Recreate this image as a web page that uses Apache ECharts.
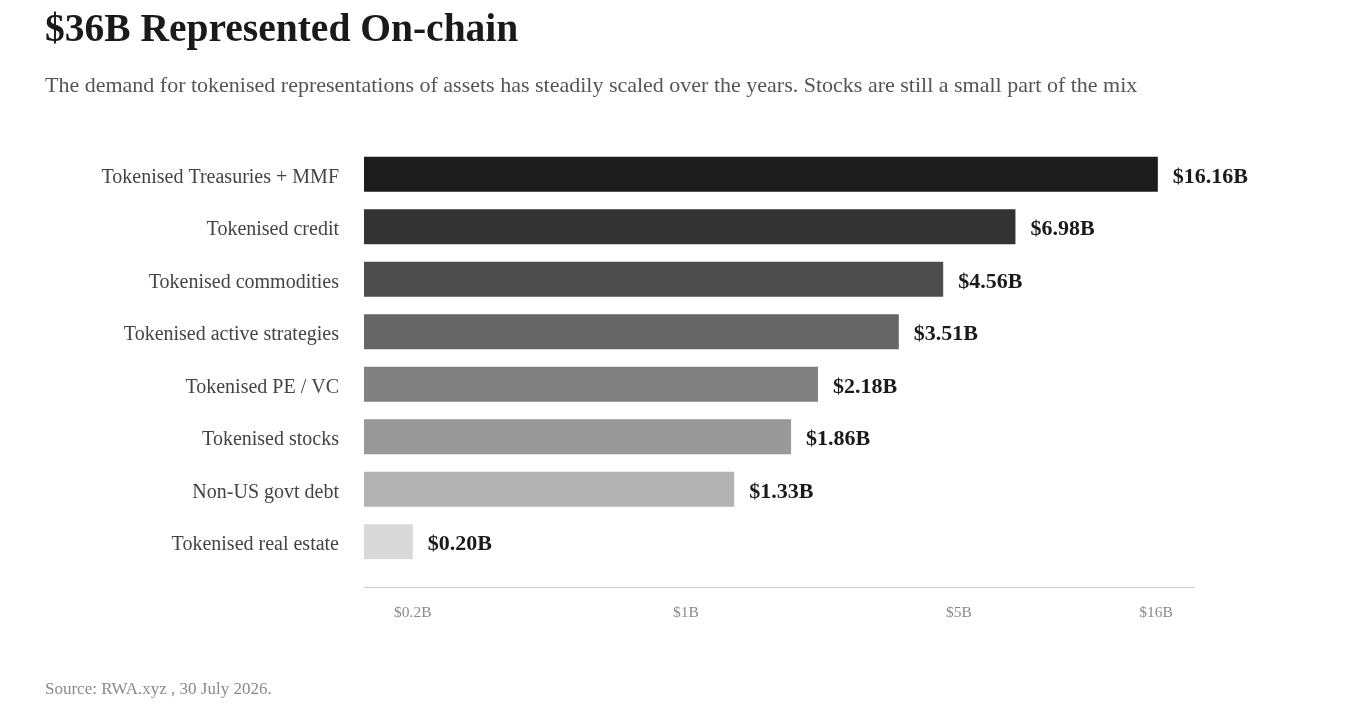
<!DOCTYPE html>
<html>
<head>
<meta charset="utf-8">
<script src="https://cdn.jsdelivr.net/npm/echarts@6/dist/echarts.min.js"></script>
<style>
  html, body { margin: 0; padding: 0; background: #fff; }
  #chart { width: 1357px; height: 710px; }
</style>
</head>
<body>
<div id="chart"></div>
<script>
// data
const categories = [
  'Tokenised Treasuries + MMF',
  'Tokenised credit',
  'Tokenised commodities',
  'Tokenised active strategies',
  'Tokenised PE / VC',
  'Tokenised stocks',
  'Non-US govt debt',
  'Tokenised real estate'
];
const values = [16.16, 6.98, 4.56, 3.51, 2.18, 1.86, 1.33, 0.20];
const barColors = ['#1c1c1c', '#333333', '#4d4d4d', '#666666', '#808080', '#999999', '#b3b3b3', '#d9d9d9'];
const tickValues = [0.2, 1, 5, 16];

const FONT = '"Liberation Serif", "DejaVu Serif", serif';

const options = {
  animation: false,
  title: [
    {
      text: '$36B Represented On-chain',
      left: 40,
      top: 6,
      textStyle: { fontFamily: FONT, fontSize: 39.5, fontWeight: 'bold', color: '#1a1a1a' }
    },
    {
      text: 'The demand for tokenised representations of assets has steadily scaled over the years. Stocks are still a small part of the mix',
      left: 40,
      top: 70,
      textStyle: { fontFamily: FONT, fontSize: 22, fontWeight: 'normal', color: '#555555' }
    },
    {
      text: 'Source: RWA.xyz , 30 July 2026.',
      left: 40,
      top: 676,
      textStyle: { fontFamily: FONT, fontSize: 17, fontWeight: 'normal', color: '#8a8a8a' }
    }
  ],
  grid: {
    left: 364,
    right: 163,
    top: 148,
    height: 420,
    outerBoundsMode: 'none'
  },
  xAxis: {
    type: 'log',
    logBase: 10,
    min: 0.15,
    max: 20,
    startValue: 0.15,
    offset: 19,
    axisLine: { show: true, lineStyle: { color: '#d0d0d0', width: 1 } },
    axisTick: { show: false },
    splitLine: { show: false },
    axisLabel: {
      customValues: tickValues,
      margin: 18,
      fontFamily: FONT,
      fontSize: 15.5,
      color: '#8a8a8a',
      formatter: v => '$' + v + 'B'
    }
  },
  yAxis: {
    type: 'category',
    inverse: true,
    data: categories,
    axisLine: { show: false },
    axisTick: { show: false },
    axisLabel: {
      margin: 25,
      fontFamily: FONT,
      fontSize: 20,
      color: '#444444',
      verticalAlign: 'top',
      lineHeight: 6
    }
  },
  series: [
    {
      type: 'bar',
      barWidth: 35,
      data: values.map((v, i) => ({ value: v, itemStyle: { color: barColors[i] } })),
      label: {
        show: true,
        position: 'right',
        distance: 15,
        offset: [0, 3],
        fontFamily: FONT,
        fontSize: 22,
        fontWeight: 'bold',
        color: '#1a1a1a',
        formatter: p => '$' + p.value.toFixed(2) + 'B'
      }
    }
  ]
};

const chart = echarts.init(document.getElementById('chart'));
chart.setOption(options);
</script>
</body>
</html>
